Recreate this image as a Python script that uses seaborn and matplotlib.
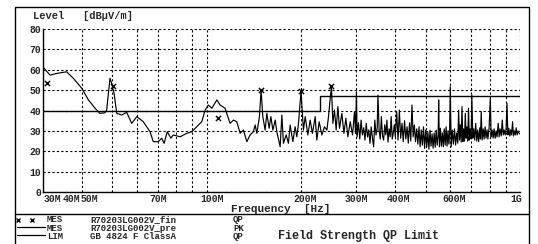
import numpy as np
import pandas as pd
import seaborn as sns
import matplotlib.pyplot as plt
from matplotlib.lines import Line2D
from matplotlib.patches import Rectangle
from matplotlib.transforms import ScaledTranslation

# peak scan (MHz, dBuV/m), 30M - 300M
freq_low = [
    30.0, 31.6, 33.2, 35.7, 37.5, 39.9, 41.9, 44.0, 45.6, 47.3, 47.9, 49.1, 49.7, 50.6,
    51.6, 53.5, 55.5, 57.6, 59.8, 62.7, 65.9, 67.5, 70.0, 71.8, 73.1, 74.8, 76.8, 78.2,
    82.2, 86.3, 89.6, 92.9, 96.4, 98.8, 101.2, 103.8, 107.7, 110.3, 114.4, 118.7, 121.7,
    124.7, 127.8, 130.9, 134.3, 137.5, 140.9, 142.7, 144.5, 147.3, 149.1, 151.0, 153.6,
    155.5, 158.2, 160.2, 162.6, 165.4, 167.4, 171.5, 173.7, 175.7, 179.3, 182.3, 184.6,
    188.3, 191.5, 193.9, 196.3, 200.0, 203.5, 206.2, 210.3, 213.8, 217.5, 221.9, 224.6,
    228.5, 233.1, 237.6, 241.9, 244.7, 250.0, 252.7, 255.7, 258.9, 262.2, 265.3, 270.0,
    274.1, 278.1, 282.2, 287.1, 292.0, 296.3, 298.5, 300.5,
]
level_low = [
    61.3, 57.4, 58.2, 59.0, 55.8, 50.9, 45.2, 41.1, 38.6, 38.9, 40.2, 55.8, 53.3, 48.4,
    38.6, 37.8, 39.1, 33.7, 37.0, 34.5, 29.6, 24.7, 24.7, 26.4, 23.9, 29.6, 26.4, 28.0,
    27.1, 28.8, 29.6, 32.0, 34.5, 40.2, 42.7, 41.1, 45.2, 42.7, 41.1, 33.7, 35.3,
    34.5, 28.8, 30.4, 24.7, 28.0, 29.6, 32.9, 28.8, 37.0, 50.0, 37.0, 30.4,
    38.6, 31.3, 37.0, 30.4, 35.3, 29.6, 22.2, 37.8, 23.9, 28.0, 23.9, 32.9,
    24.7, 32.0, 27.1, 33.7, 49.5, 30.4, 37.0, 28.0, 35.3, 28.8, 37.0, 25.5,
    34.5, 28.0, 32.0, 30.4, 37.0, 52.0, 33.7, 40.2, 30.4, 41.9, 31.3, 38.6,
    28.8, 36.2, 27.1, 34.5, 28.0, 39.4, 28.8, 49.2,
]

# 300M - 600M
freq_mid = [
    302, 305, 308, 311, 314, 317, 320, 323, 326, 329, 332, 335, 338, 341, 344, 347, 350,
    352, 355, 358, 361, 364, 367, 370, 373, 376, 379, 382, 385, 388, 391, 394, 397,
    400, 404, 408, 412, 416, 420, 424, 428, 432, 436, 440, 444, 448, 452, 456, 460, 464,
    468, 472, 476, 480, 484, 488, 492, 496, 500, 504, 508, 512, 516, 520, 524, 528, 532,
    536, 540, 544, 548, 550, 553, 557, 561, 565, 569, 573, 577, 581, 585, 589, 593, 596,
    599,
]
level_mid = [
    27.1, 34.0, 26.0, 35.3, 28.0, 31.5, 25.5, 33.7, 27.0, 30.5, 23.9, 32.0, 26.5, 22.2,
    35.3, 28.0, 31.0, 47.6, 30.4, 26.0, 37.0, 27.5, 25.5, 33.0, 28.0, 35.3, 24.5, 31.0,
    27.1, 37.0, 26.0, 28.8, 33.0,
    27.1, 39.4, 25.5, 40.2, 26.4, 33.7, 24.7, 35.0, 26.0, 32.0, 24.0, 34.0, 25.0, 42.7,
    27.1, 32.9, 24.7, 31.0, 23.5, 32.0, 22.2, 30.5, 23.0, 32.0, 21.4, 30.4, 22.2, 29.5,
    21.0, 30.4, 22.5, 28.5, 21.5, 29.0, 22.0, 30.4, 23.0, 28.0, 45.2, 22.2, 31.3, 22.5,
    29.0, 22.2, 31.0, 23.0, 32.0, 22.5, 30.0, 23.5, 28.5, 51.7,
]

# 600M - 1G
freq_high = [
    603, 608, 613, 618, 623, 628, 633, 637, 641, 645, 649, 653, 657, 661, 665, 669, 673,
    677, 681, 685, 689, 693, 698, 702, 707, 712, 717, 722, 728, 733, 738, 744, 748, 752,
    757, 763, 768, 774, 779, 785, 790, 797, 804, 809, 815, 821, 827, 833, 839, 845, 852,
    858, 864, 871, 878, 884, 890, 897, 903, 909, 915, 921, 928, 934, 940, 947, 953, 960,
    966, 972, 979, 986, 993, 1000,
]
level_high = [
    22.2, 30.4, 23.5, 31.0, 23.1, 29.0, 24.0, 40.2, 25.5, 33.0, 24.5, 41.9, 24.7, 31.0,
    25.0, 38.6, 26.4, 32.0, 25.0, 41.1, 25.5, 31.0, 26.0, 47.6, 26.4, 31.0, 25.5, 33.7,
    25.0, 30.5, 24.7, 31.5, 26.0, 39.4, 25.5, 31.0, 26.0, 32.0, 26.4, 30.5, 26.0, 31.5,
    46.0, 27.1, 30.4, 26.5, 31.0, 26.4, 30.0, 27.0, 33.7, 27.1, 31.0, 27.5, 35.3, 28.0,
    30.5, 28.0, 31.0, 43.5, 28.0, 31.3, 27.5, 30.5, 28.0, 34.5, 27.5, 30.0, 28.0, 31.5,
    28.0, 30.0, 28.8, 28.5,
]

# final quasi-peak results
qp_freq = [30.9, 50.2, 108.6, 149.1, 200.0, 250.0]
qp_level = [53.6, 52.0, 36.3, 50.0, 49.5, 52.0]

# GB 4824 class A QP limit
lim_freq = [30, 230, 230, 1000]
lim_level = [40, 40, 47, 47]

xticks = [30, 40, 50, 70, 100, 200, 300, 400, 600, 1000]
xtick_labels = ["30M", "40M", "50M", "70M", "100M", "200M", "300M", "400M", "600M", "1G"]
xminor = [60, 80, 90, 500, 700, 800, 900]

pk = pd.DataFrame({"freq": freq_low + freq_mid + freq_high,
                   "level": level_low + level_mid + level_high})
qp = pd.DataFrame({"freq": qp_freq, "level": qp_level})
lim = pd.DataFrame({"freq": lim_freq, "level": lim_level})

sns.set_style("white")
plt.rcParams["font.family"] = ["Liberation Mono", "DejaVu Sans Mono"]
plt.rcParams["font.weight"] = "bold"

fig = plt.figure(figsize=(5.38, 2.44), dpi=100)
ax = fig.add_axes([0.0799, 0.2131, 0.8866, 0.668])

sns.lineplot(data=pk, x="freq", y="level", ax=ax, color="black", lw=0.85,
             estimator=None, sort=False)
sns.lineplot(data=lim, x="freq", y="level", ax=ax, color="black", lw=1.0,
             estimator=None, sort=False)
sns.scatterplot(data=qp, x="freq", y="level", ax=ax, marker="x", color="black",
                s=14, linewidth=1.0)

ax.set_xscale("log")
ax.set_xlim(30, 1000)
ax.set_ylim(0, 80)
ax.set_yticks(range(0, 81, 10))
ax.set_xticks(xticks)
ax.set_xticklabels(xtick_labels)
ax.set_xticks(xminor, minor=True)
ax.set_xticklabels([], minor=True)
ax.set_xlabel("")
ax.set_ylabel("")
ax.grid(True, which="both", color="black", linestyle=(0, (2, 2)), linewidth=0.8)
ax.tick_params(length=0, labelsize=7, pad=1.5)
for s in ["top", "right"]:
    ax.spines[s].set_visible(False)
for s in ["left", "bottom"]:
    ax.spines[s].set_color("black")
    ax.spines[s].set_linewidth(1.0)

# the first labels sit packed to the left in the original
shifts = [9, -11, -23, 0, 5, 4, 0, 3, 4, -4]
for lab, dx in zip(ax.get_xticklabels(), shifts):
    lab.set_transform(lab.get_transform() + ScaledTranslation(dx / 100, 0, fig.dpi_scale_trans))

fig.text(33 / 538, 1 - 16 / 244, "Level   [dB\u00b5V/m]", fontsize=7.5, va="center")
fig.text(281 / 538, 1 - 208.5 / 244, "Frequency  [Hz]", fontsize=8, va="center", ha="center")

# frame and legend block
fig.add_artist(Rectangle((15 / 538, -0.05), 514 / 538, 1.05 - 7 / 244,
                         transform=fig.transFigure, fill=False, ec="black", lw=1.0))
fig.add_artist(Line2D([15 / 538, 529 / 538], [1 - 214 / 244] * 2,
                      transform=fig.transFigure, color="black", lw=1.0))

legend_top = 1 - 215.5 / 244
cols = [(47, "MES\nMES\nLIM"),
        (90, "R70203LG002V_fin\nR70203LG002V_pre\nGB 4824 F ClassA"),
        (233, "QP\nPK\nQP")]
for x, txt in cols:
    fig.text(x / 538, legend_top, txt, fontsize=6.5, va="top", linespacing=0.88)
fig.add_artist(Line2D([18 / 538, 32 / 538], [1 - 219.5 / 244] * 2, transform=fig.transFigure,
                      color="black", marker="x", ms=3, lw=0, mew=1))
for y in [227, 234.5]:
    fig.add_artist(Line2D([17 / 538, 45 / 538], [1 - y / 244] * 2,
                          transform=fig.transFigure, color="black", lw=0.9))
fig.text(278 / 538, 1 - 236 / 244, "Field Strength QP Limit", fontsize=8.5, va="center")

plt.savefig("out.png", dpi=100)
